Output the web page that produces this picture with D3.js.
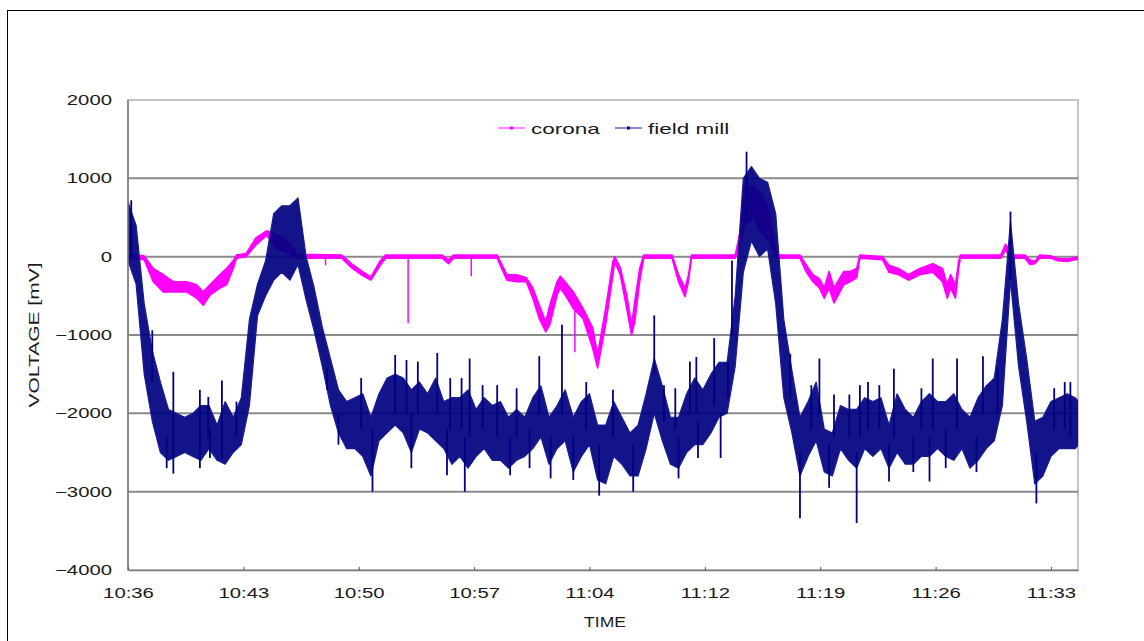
<!DOCTYPE html>
<html>
<head>
<meta charset="utf-8">
<script src="https://cdn.jsdelivr.net/npm/d3@7"></script>
<style>
  html, body { margin: 0; padding: 0; background: #fff; }
  svg { display: block; font-family: "Liberation Sans", Arial, sans-serif; }
</style>
</head>
<body>
<svg id="chart" width="1144" height="641"></svg>
<script>
// time axis, minutes after 10:36
const tickLabels = ['10:36', '10:43', '10:50', '10:57', '11:04', '11:12', '11:19', '11:26', '11:33'];
const tickMinutes = tickLabels.map((_, i) => i * 57 / 8);
const yTicks = [2000, 1000, 0, -1000, -2000, -3000, -4000];
const yGrid = [1000, 0, -1000, -2000, -3000];

// field mill: [minute, low, high] envelope of the noisy trace (mV)
const fieldMill = [
  [0, -50, 700], [0.5, -350, 400], [1.0, -1500, -600], [1.5, -2100, -1200],
  [2.0, -2500, -1600], [2.5, -2600, -1950], [3.0, -2550, -2000], [3.5, -2500, -2050],
  [4.0, -2550, -2000], [4.5, -2600, -1900], [5.0, -2450, -1900], [5.5, -2600, -2150],
  [6.0, -2650, -1850], [6.5, -2500, -2050], [7.0, -2400, -1800], [7.5, -1900, -800],
  [8.0, -750, -350], [8.5, -500, -50], [9.0, -300, 550], [9.5, -200, 650],
  [10.0, -300, 650], [10.5, -100, 750], [11.0, -550, 0], [11.5, -950, -400],
  [12.0, -1400, -900], [12.5, -1900, -1300], [13.0, -2250, -1700], [13.5, -2450, -1850],
  [14.0, -2450, -1800], [14.5, -2550, -1750], [15.0, -2800, -2050], [15.5, -2350, -1750],
  [16.0, -2250, -1550], [16.5, -2150, -1500], [17.0, -2250, -1550], [17.5, -2500, -1700],
  [18.0, -2200, -1600], [18.5, -2250, -1750], [19.0, -2350, -1550], [19.5, -2450, -1850],
  [20.0, -2650, -1800], [20.5, -2550, -1800], [21.0, -2700, -1700], [21.5, -2550, -1950],
  [22.0, -2450, -1800], [22.5, -2600, -1900], [23.0, -2600, -1850], [23.5, -2700, -2050],
  [24.0, -2600, -1950], [24.5, -2550, -2050], [25.0, -2450, -1800], [25.5, -2300, -1650],
  [26.0, -2650, -2050], [26.5, -2450, -1900], [27.0, -2350, -1700], [27.5, -2750, -2050],
  [28.0, -2550, -1850], [28.5, -2400, -1750], [29.0, -2850, -2150], [29.5, -2900, -2150],
  [30.0, -2550, -1850], [30.5, -2650, -2050], [31.0, -2800, -2250], [31.5, -2800, -2150],
  [32.0, -2450, -1750], [32.5, -2000, -1300], [33.0, -2350, -1650], [33.5, -2650, -2050],
  [34.0, -2700, -2050], [34.5, -2500, -1750], [35.0, -2400, -1550], [35.5, -2400, -1700],
  [36.0, -2250, -1500], [36.5, -2050, -1350], [37.0, -2000, -1350], [37.5, -1400, -500],
  [38.0, -200, 1000], [38.5, 200, 1150], [39.0, 0, 1000], [39.5, 100, 950],
  [40.0, -600, 550], [40.5, -1800, -800], [41.0, -2250, -1450], [41.5, -2800, -2050],
  [42.0, -2550, -1850], [42.5, -2350, -1600], [43.0, -2750, -2200], [43.5, -2800, -2250],
  [44.0, -2450, -1900], [44.5, -2600, -1950], [45.0, -2700, -1950], [45.5, -2450, -1800],
  [46.0, -2550, -1850], [46.5, -2450, -1800], [47.0, -2700, -2150], [47.5, -2500, -1750],
  [48.0, -2650, -1950], [48.5, -2650, -2050], [49.0, -2550, -1850], [49.5, -2550, -1750],
  [50.0, -2450, -1850], [50.5, -2550, -1850], [51.0, -2600, -1750], [51.5, -2450, -1950],
  [52.0, -2700, -2050], [52.5, -2600, -1800], [53.0, -2450, -1650], [53.5, -2350, -1550],
  [54.0, -1900, -800], [54.5, -300, 450], [55.0, -1400, -600], [55.5, -2100, -1300],
  [56.0, -2900, -2100], [56.5, -2800, -2050], [57.0, -2550, -1850], [57.5, -2450, -1800],
  [58.0, -2450, -1750], [58.5, -2450, -1800], [58.7, -2400, -1850]
];

// narrow excursions of the field mill trace: [minute, low, high]
const fieldMillSpikes = [
  [0.2, 0, 720], [1.5, -1600, -940], [2.39, -2700, -2300], [2.8, -2770, -1470],
  [4.44, -2700, -1700], [4.96, -2300, -1790], [5.06, -2570, -2200], [5.8, -2600, -1580],
  [6.7, -2300, -1850], [12.3, -1700, -1425], [13.0, -2400, -2000], [14.4, -2200, -1550],
  [15.1, -3000, -2200], [16.5, -2000, -1255], [17.2, -2000, -1320], [17.5, -2700, -2000],
  [17.9, -2000, -1340], [19.1, -2000, -1230], [19.7, -2790, -2200], [19.9, -2200, -1550],
  [20.6, -2200, -1550], [20.8, -3000, -2300], [21.1, -2300, -1300], [21.9, -2200, -1640],
  [22.8, -2300, -1640], [23.6, -2790, -2300], [24.0, -2300, -1680], [24.8, -2700, -2200],
  [25.4, -2000, -1270], [26.1, -2830, -2300], [26.8, -2000, -870], [27.5, -2850, -2300],
  [28.3, -2200, -1600], [29.1, -3050, -2400], [29.95, -2300, -1700], [31.2, -3000, -2400],
  [32.5, -1500, -750], [33.1, -2100, -1640], [33.8, -2200, -1680], [34.0, -2830, -2300],
  [34.7, -2000, -1340], [35.1, -2000, -1280], [35.2, -2570, -2100], [36.2, -1900, -1040],
  [36.6, -2570, -2000], [37.05, -1800, -1340], [37.3, -1000, -50], [38.2, 500, 1340],
  [40.9, -1800, -1240], [41.5, -3340, -2500], [42.2, -2200, -1640], [42.7, -2000, -1300],
  [43.3, -2950, -2400], [43.6, -2300, -1760], [44.55, -2300, -1760], [45.0, -3400, -2500],
  [45.2, -2300, -1640], [45.7, -2200, -1600], [46.4, -2200, -1640], [47.0, -2870, -2400],
  [47.3, -2300, -1430], [48.5, -2750, -2300], [49.0, -2200, -1680], [49.5, -2870, -2300],
  [49.7, -2200, -1300], [50.5, -2700, -2200], [51.2, -2200, -1300], [52.4, -2750, -2300],
  [52.8, -2000, -1270], [53.7, -2000, -1430], [54.5, -300, 575], [56.1, -3150, -2500],
  [57.2, -2200, -1680], [57.85, -2200, -1600], [58.2, -2300, -1600]
];

// corona: [minute, low, high]
const corona = [
  [0, -20, 20], [1.0, -40, 10], [1.56, -320, -150], [2.18, -450, -230], [2.8, -450, -320],
  [3.62, -450, -320], [4.24, -530, -360], [4.65, -620, -450], [5.06, -490, -360],
  [5.68, -400, -230], [6.09, -360, -150], [6.5, -150, -50], [6.7, -20, 20], [7.3, 0, 40],
  [7.9, 150, 240], [8.56, 270, 330], [9.2, 100, 280], [9.8, 50, 200], [10.5, -20, 30],
  [13.2, -20, 20], [13.8, -140, -90], [14.4, -230, -180], [15.0, -300, -260],
  [15.55, -120, -60], [15.9, -20, 20], [19.4, -20, 20], [19.8, -90, -40], [20.1, -20, 20],
  [22.8, -20, 20], [23.4, -300, -230], [24.0, -320, -230], [24.6, -320, -270],
  [25.0, -530, -400], [25.4, -790, -620], [25.8, -960, -830], [26.05, -870, -620],
  [26.5, -490, -320], [26.7, -400, -250], [27.0, -490, -320], [27.5, -660, -450],
  [28.1, -790, -660], [28.7, -1170, -910], [29.0, -1420, -1250], [29.5, -870, -660],
  [29.95, -230, -60], [30.06, -60, 0], [30.4, -230, -140], [30.8, -660, -490],
  [31.1, -1000, -870], [31.3, -830, -570], [31.6, -320, -150], [31.85, -20, 20],
  [33.6, -20, 20], [34.0, -320, -230], [34.4, -510, -400], [34.6, -330, -250],
  [34.8, -20, 20], [37.5, -20, 20], [37.8, 150, 320], [38.1, 400, 900], [38.6, 500, 900],
  [39.1, 300, 800], [39.6, 200, 600], [40.0, 0, 100], [40.2, -20, 20], [41.5, -20, 20],
  [41.9, -200, -110], [42.3, -320, -230], [42.7, -400, -280], [43.0, -530, -400],
  [43.3, -400, -190], [43.6, -590, -400], [44.2, -360, -190], [44.6, -320, -190],
  [45.0, -270, -150], [45.2, -20, 20], [46.6, -40, 0], [47.0, -200, -110],
  [47.6, -230, -150], [48.2, -300, -230], [48.9, -230, -150], [49.7, -200, -90],
  [50.3, -320, -150], [50.6, -530, -360], [50.8, -400, -230], [51.1, -530, -360],
  [51.3, -150, -60], [51.4, -20, 20], [53.9, -20, 20], [54.2, 80, 160], [54.5, 0, 50],
  [54.7, -20, 20], [55.4, -20, 20], [55.7, -100, -40], [56.0, -90, -60], [56.3, -20, 20],
  [57.0, -20, 10], [57.4, -50, -20], [58.0, -60, -30], [58.7, -30, 0]
];

const coronaSpikes = [
  [12.2, -110, 0], [17.3, -850, 0], [21.2, -250, 0], [27.6, -1220, -600]
];

const series = [
  { name: 'corona', color: '#ff00ff' },
  { name: 'field mill', color: '#000080' }
];

const svg = d3.select('#chart');
const plot = { left: 128, right: 1078, top: 100, bottom: 570 };

const x = d3.scaleLinear().domain([0, 58.67]).range([plot.left, plot.right]);
const y = d3.scaleLinear().domain([-4000, 2000]).range([plot.bottom, plot.top]);

// stretch text sideways, the source font is wide
function stretch(sel, k) {
  sel.each(function () {
    const w = this.getComputedTextLength();
    d3.select(this).attr('textLength', w * k).attr('lengthAdjust', 'spacingAndGlyphs');
  });
}

// outer frame
svg.append('rect')
  .attr('x', 7.5).attr('y', 10.5)
  .attr('width', 1150).attr('height', 650)
  .attr('fill', 'none').attr('stroke', '#000').attr('stroke-width', 1);

// plot border (top/right light)
svg.append('rect')
  .attr('x', plot.left).attr('y', plot.top)
  .attr('width', plot.right - plot.left).attr('height', plot.bottom - plot.top)
  .attr('fill', '#fff').attr('stroke', '#c4c4c4').attr('stroke-width', 2);

svg.append('g')
  .selectAll('line')
  .data(yGrid)
  .join('line')
    .attr('x1', plot.left).attr('x2', plot.right)
    .attr('y1', d => y(d)).attr('y2', d => y(d))
    .attr('stroke', '#8a8a8a').attr('stroke-width', 2);

svg.append('clipPath').attr('id', 'clip')
  .append('rect')
  .attr('x', plot.left).attr('y', plot.top)
  .attr('width', plot.right - plot.left).attr('height', plot.bottom - plot.top);

const data = svg.append('g').attr('clip-path', 'url(#clip)');

const band = d3.area()
  .x(d => x(d[0]))
  .y0(d => y(d[1]))
  .y1(d => y(d[2]));

// corona first, field mill drawn over it
data.append('path')
  .datum(corona)
  .attr('d', band)
  .attr('fill', series[0].color)
  .attr('stroke', series[0].color)
  .attr('stroke-width', 1.6)
  .attr('stroke-linejoin', 'round');

data.append('g')
  .selectAll('line')
  .data(coronaSpikes)
  .join('line')
    .attr('x1', d => x(d[0])).attr('x2', d => x(d[0]))
    .attr('y1', d => y(d[1])).attr('y2', d => y(d[2]))
    .attr('stroke', series[0].color).attr('stroke-width', 1.5);

data.append('path')
  .datum(fieldMill)
  .attr('d', band)
  .attr('fill', series[1].color)
  .attr('fill-opacity', 0.92)
  .attr('stroke', '#1c1c90')
  .attr('stroke-width', 1.2)
  .attr('stroke-linejoin', 'round');

data.append('g')
  .selectAll('line')
  .data(fieldMillSpikes)
  .join('line')
    .attr('x1', d => x(d[0])).attr('x2', d => x(d[0]))
    .attr('y1', d => y(d[1])).attr('y2', d => y(d[2]))
    .attr('stroke', series[1].color).attr('stroke-width', 1.8);

// axes lines (left/bottom darker)
svg.append('line')
  .attr('x1', plot.left).attr('x2', plot.left)
  .attr('y1', plot.top).attr('y2', plot.bottom)
  .attr('stroke', '#7a7a7a').attr('stroke-width', 1.5);

const xAxis = svg.append('g')
  .attr('transform', `translate(0,${plot.bottom})`)
  .call(d3.axisBottom(x)
    .tickValues(tickMinutes)
    .tickFormat((d, i) => tickLabels[i])
    .tickSizeInner(-3)
    .tickSizeOuter(0)
    .tickPadding(18));
xAxis.select('.domain').attr('stroke', '#7a7a7a').attr('stroke-width', 1.5);
xAxis.selectAll('.tick line').attr('stroke', '#555');
xAxis.selectAll('.tick text')
  .attr('font-size', 14).attr('fill', '#1a1a1a').attr('font-family', null)
  .call(stretch, 1.45);

const yAxis = svg.append('g')
  .attr('transform', `translate(${plot.left},0)`)
  .call(d3.axisLeft(y)
    .tickValues(yTicks)
    .tickFormat(d3.format('d'))
    .tickSize(0)
    .tickPadding(16));
yAxis.select('.domain').remove();
yAxis.selectAll('.tick text')
  .attr('font-size', 14).attr('fill', '#1a1a1a').attr('font-family', null)
  .text(d => d < 0 ? '\u2212' + Math.abs(d) : String(d))
  .call(stretch, 1.45);

svg.append('text')
  .attr('x', 605).attr('y', 627)
  .attr('text-anchor', 'middle')
  .attr('font-size', 14).attr('fill', '#1a1a1a')
  .text('TIME')
  .call(stretch, 1.25);

svg.append('text')
  .attr('transform', 'translate(39,335) rotate(-90)')
  .attr('text-anchor', 'middle')
  .attr('font-size', 15).attr('fill', '#1a1a1a')
  .text('VOLTAGE [mV]')
  .call(stretch, 1.4);

// legend
const legend = svg.append('g').attr('transform', 'translate(498,128)');
const legendX = [0, 117];
const item = legend.selectAll('g')
  .data(series)
  .join('g')
    .attr('transform', (d, i) => `translate(${legendX[i]},0)`);
item.append('line')
  .attr('x1', 0).attr('x2', 27)
  .attr('stroke', d => d.color).attr('stroke-opacity', 0.45).attr('stroke-width', 2);
item.append('rect')
  .attr('x', 12).attr('y', -1.5).attr('width', 3).attr('height', 3)
  .attr('fill', d => d.color);
item.append('text')
  .attr('x', 33).attr('y', 6)
  .attr('font-size', 15).attr('fill', '#1a1a1a')
  .text(d => d.name)
  .call(stretch, 1.5);
</script>
</body>
</html>
